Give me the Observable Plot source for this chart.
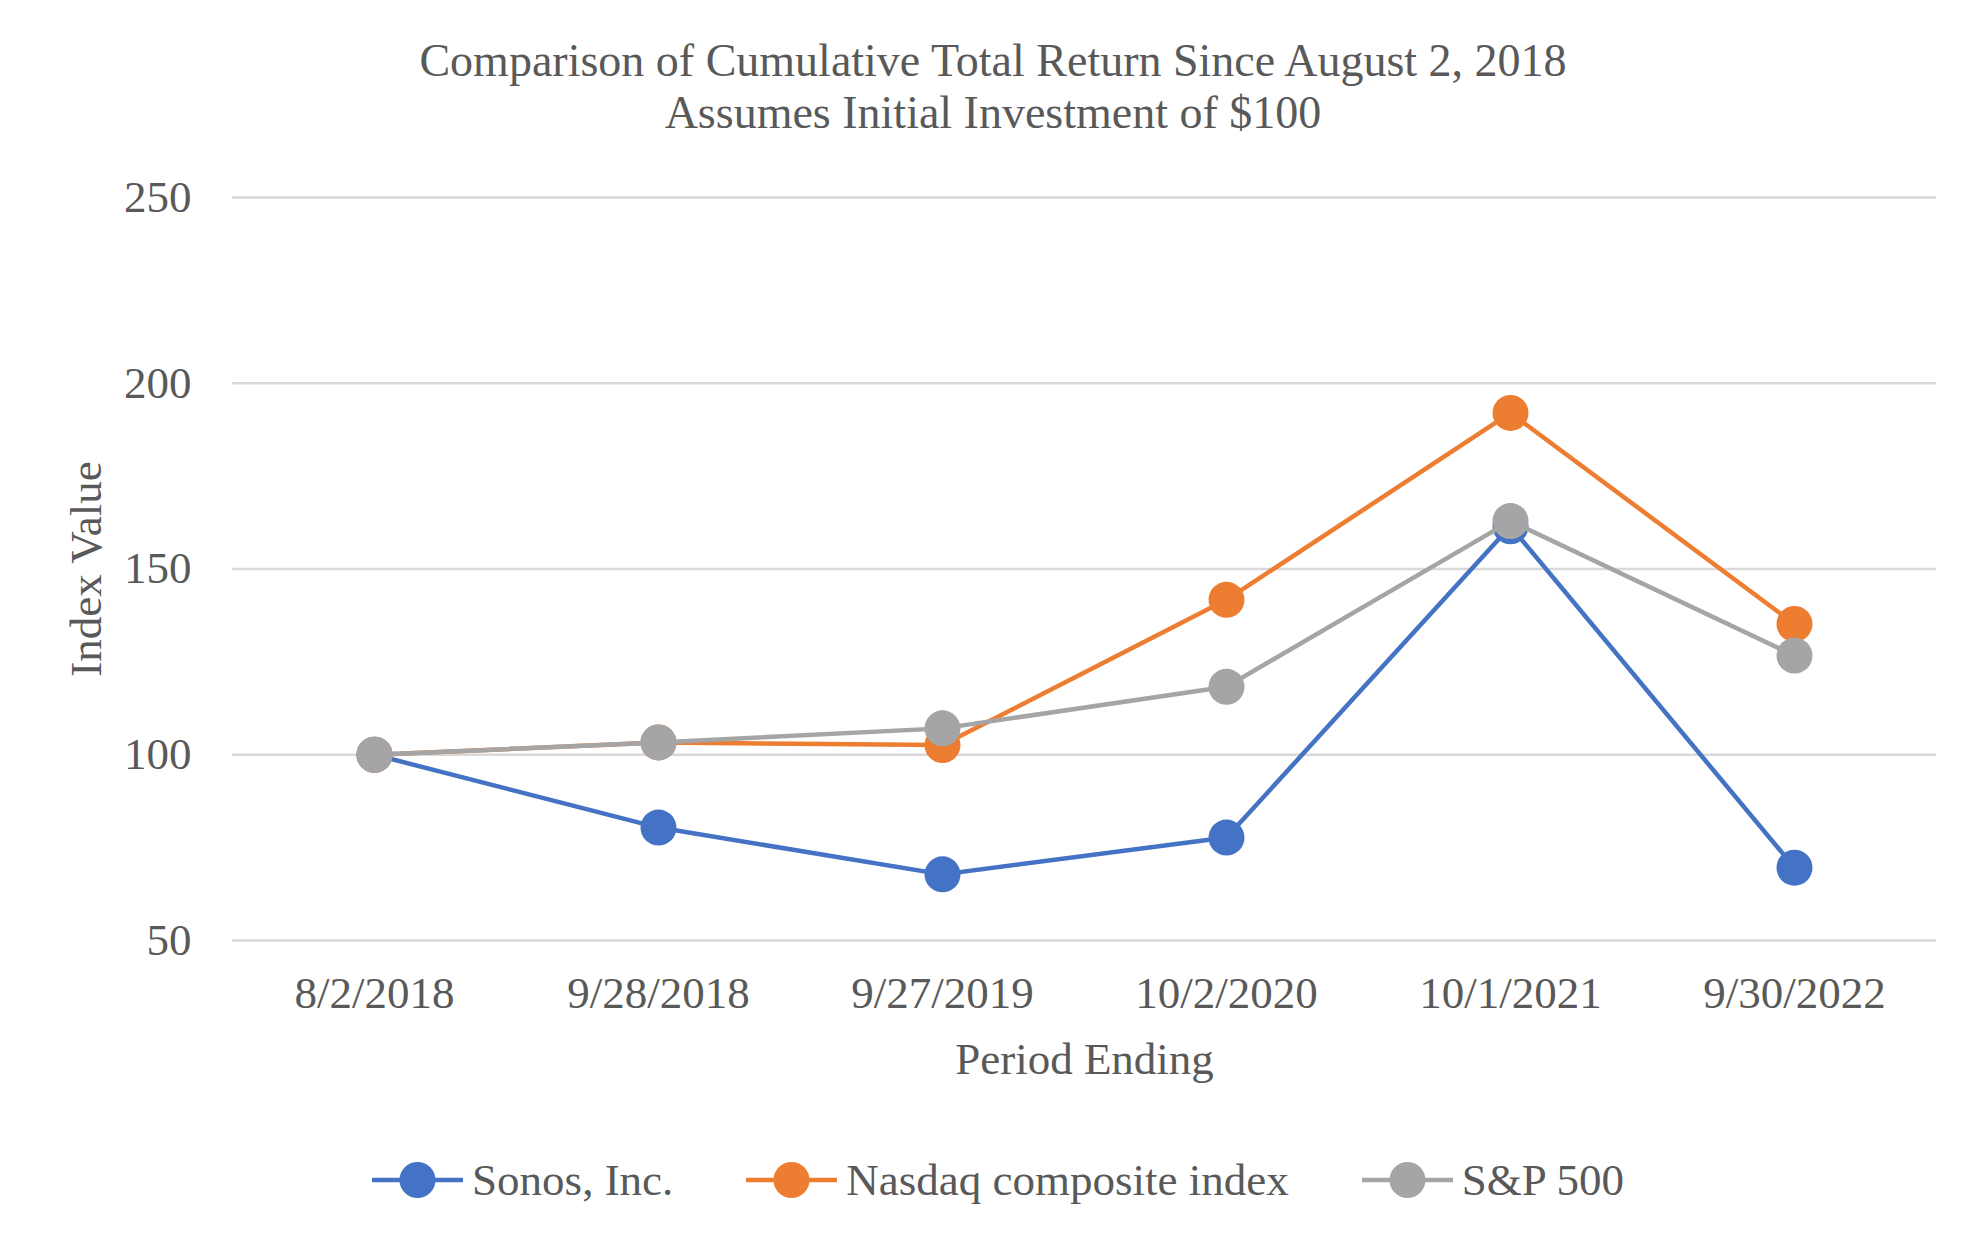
<!DOCTYPE html>
<html><head><meta charset="utf-8">
<script src="https://cdn.jsdelivr.net/npm/d3@7"></script>
<script src="https://cdn.jsdelivr.net/npm/@observablehq/plot@0.6"></script>
<style>
body{margin:0;background:#fff;font-family:"Liberation Serif","Times New Roman",serif;color:#595959;}
#wrap{width:1986px;height:1246px;position:relative;overflow:hidden;background:#fff}
#title{height:150px;box-sizing:border-box;padding-top:35px;padding-left:0px;text-align:center;font-size:46px;line-height:52px;}
#legend{height:140px;display:flex;align-items:center;justify-content:center;padding-left:10px;box-sizing:border-box;font-size:45px;}
.item{display:flex;align-items:center;margin-right:73px}
.item:last-child{margin-right:0}
.item span{margin-left:9px;white-space:nowrap}
svg{display:block}
</style></head>
<body><div id="wrap">
<div id="title">Comparison of Cumulative Total Return Since August 2, 2018<br>Assumes Initial Investment of $100</div>
<div id="chart"></div>
<div id="legend"></div>
</div>
<script>
const dates = ["8/2/2018","9/28/2018","9/27/2019","10/2/2020","10/1/2021","9/30/2022"];
const seriesNames = ["Sonos, Inc.","Nasdaq composite index","S&P 500"];
const sonos  = [100, 80.4, 67.8, 77.7, 161.5, 69.6];
const nasdaq = [100, 103.3, 102.6, 141.7, 192.0, 135.2];
const sp500  = [100, 103.3, 107.1, 118.3, 162.9, 126.7];
const colors = ["#4472C4","#ED7D31","#A5A5A5"];
const yTicks = [50,100,150,200,250];

const values = [sonos, nasdaq, sp500];
const rows = seriesNames.flatMap((s,i)=>dates.map((d,j)=>({series:s,date:d,value:values[i][j]})));

const marks = [
  Plot.ruleY(yTicks, {stroke:"#D9D9D9", strokeWidth:2.5}),
  Plot.axisY({ticks:yTicks, tickSize:0, tickPadding:41, label:null}),
  Plot.axisX({tickSize:0, tickPadding:36, label:null}),
];
seriesNames.forEach(s=>{
  const d = rows.filter(r=>r.series===s);
  marks.push(Plot.line(d,{x:"date",y:"value",stroke:"series",strokeWidth:4.5}));
  marks.push(Plot.dot(d,{x:"date",y:"value",fill:"series",r:18}));
});
marks.push(Plot.text(["Period Ending"],{text:d=>d, frameAnchor:"bottom", dy:119, lineAnchor:"middle", textAnchor:"middle", fill:"#595959"}));
marks.push(Plot.text(["Index Value"],{text:d=>d, frameAnchor:"left", dx:-146, rotate:-90, lineAnchor:"middle", textAnchor:"middle", fill:"#595959"}));

const chart = Plot.plot({
  width:1986, height:960,
  marginTop:47, marginBottom:170, marginLeft:232, marginRight:50,
  style:{fontFamily:'"Liberation Serif","Times New Roman",serif', fontSize:"45px", color:"#595959", background:"white"},
  x:{type:"point", domain:dates, padding:0.5},
  y:{domain:[50,250]},
  color:{domain:seriesNames, range:colors},
  marks
});
document.getElementById("chart").appendChild(chart);

const leg = document.getElementById("legend");
seriesNames.forEach((s,i)=>{
  const it = document.createElement("div");
  it.className="item";
  it.innerHTML = `<svg width="91" height="40"><line x1="0" x2="91" y1="20" y2="20" stroke="${colors[i]}" stroke-width="4.5"/><circle cx="45.5" cy="20" r="18" fill="${colors[i]}"/></svg><span></span>`;
  it.querySelector("span").textContent = s;
  leg.appendChild(it);
});
</script>
</body></html>
